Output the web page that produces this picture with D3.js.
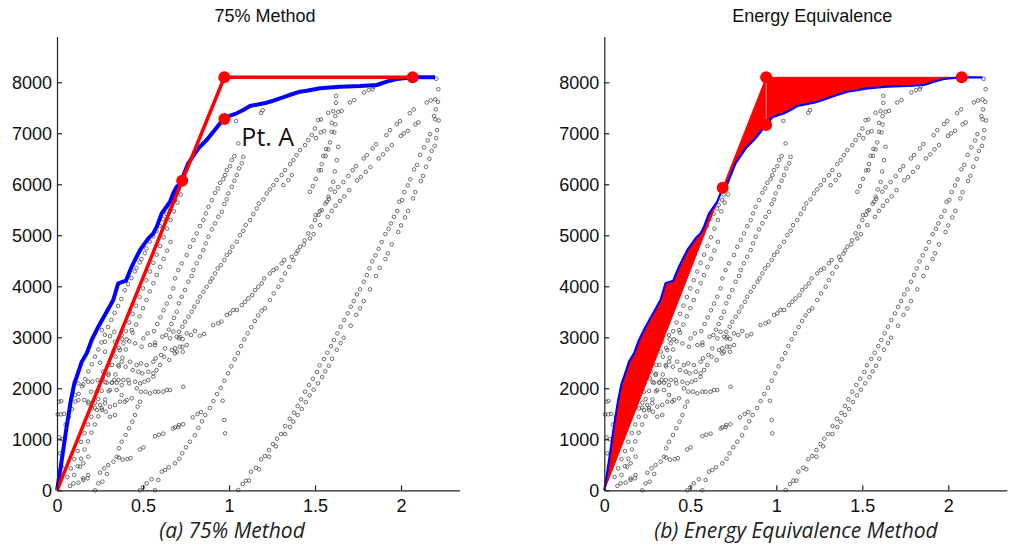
<!DOCTYPE html>
<html>
<head>
<meta charset="utf-8">
<script src="https://cdn.jsdelivr.net/npm/d3@7"></script>
<style>
  body { margin: 0; background: #fff; }
  svg text { font-family: "Liberation Sans", Arial, sans-serif; }
</style>
</head>
<body>
<svg id="chart" width="1010" height="545"></svg>
<script>
const xTicks = [0, 0.5, 1, 1.5, 2];
const yTicks = [0, 1000, 2000, 3000, 4000, 5000, 6000, 7000, 8000];

// envelope (blue)
const envelope = [[0,0],[0.002,39],[0.022,463],[0.056,1247],[0.081,1771],[0.101,2098],[0.115,2227],[0.144,2522],
  [0.173,2686],[0.202,2947],[0.240,3208],[0.289,3502],[0.327,3731],[0.356,4059],[0.401,4110],[0.434,4384],
  [0.483,4712],[0.531,4941],[0.560,5039],[0.580,5169],[0.609,5431],[0.657,5659],[0.676,5824],[0.696,5953],
  [0.715,6006],[0.763,6412],[0.822,6706],[0.870,6869],[0.909,7031],[0.948,7196],[0.977,7314],[1.045,7392],
  [1.083,7457],[1.122,7535],[1.219,7600],[1.258,7639],[1.335,7731],[1.413,7816],[1.452,7835],[1.529,7882],
  [1.645,7914],[1.762,7927],[1.859,7947],[1.917,8012],[1.975,8065],[2.072,8098],[2.198,8098]];

// (a) 75% method
const line75 = [[0,0],[0.728,6070],[0.973,8098],[2.068,8098]];
const dots75 = [[0.728,6070],[0.973,8098],[0.973,7280],[2.068,8098]];
const ptA = [0.973,7280];

// (b) energy equivalence
const lineEE = [[0,0],[0.688,5933],[0.941,8098],[2.078,8098]];
const dotsEE = [[0.688,5933],[0.941,8098],[0.941,7163],[2.078,8098]];

// scatter chains
const chainR1 = [[1.054,6],[1.080,123],[1.099,188],[1.116,188],[1.128,365],[1.157,443],[1.186,608],[1.209,672],
  [1.233,790],[1.256,908],[1.279,1011],[1.302,1103],[1.327,1260],[1.353,1403],[1.378,1521],[1.399,1652],
  [1.419,1784],[1.442,1933],[1.465,2064],[1.488,2187],[1.512,2319],[1.527,2450],[1.552,2573],[1.572,2697],
  [1.593,2828],[1.610,2946],[1.630,3077],[1.649,3207],[1.669,3338],[1.690,3469],[1.708,3599],[1.725,3710],
  [1.744,3842],[1.762,3940],[1.783,4089],[1.801,4220],[1.816,4351],[1.833,4488],[1.851,4606],[1.870,4735],
  [1.888,4867],[1.909,5023],[1.928,5127],[1.942,5233],[1.959,5363],[1.978,5480],[1.990,5657],[2.006,5690],
  [2.019,5847],[2.039,5978],[2.054,6096],[2.076,6292],[2.093,6382],[2.112,6578],[2.134,6723],[2.155,6860],
  [2.169,6983],[2.192,7336],[2.199,7272],[2.202,7468],[2.215,7617],[2.217,7865],[2.205,8067],[2.149,7605],
  [2.173,7644],[2.199,7664]];
const chainR2 = [[1.174,412],[1.233,659],[1.272,862],[1.326,1103],[1.355,1241],[1.374,1345],[1.399,1476],
  [1.423,1593],[1.446,1731],[1.469,1862],[1.492,1972],[1.517,2097],[1.542,2221],[1.560,2332],[1.580,2442],
  [1.599,2579],[1.626,2756],[1.649,2887],[1.667,2991],[1.708,3226],[1.740,3442],[1.762,3567],[1.783,3710],
  [1.820,3940],[1.855,4200],[1.876,4363],[1.909,4533],[1.923,4645],[1.946,4822],[1.984,5063],[2.000,5194],
  [2.023,5351],[2.041,5480],[2.070,5723],[2.083,5847],[2.115,6062],[2.128,6166],[2.145,6343],[2.165,6499],
  [2.178,6656],[2.196,6754],[2.205,6905],[2.209,7062],[2.219,7252]];
const chainMa = [[1.471,4939],[1.492,5023],[1.504,5396],[1.529,5474],[1.568,5657],[1.581,5715],[1.616,5853],
  [1.635,5945],[1.665,6043],[1.694,6160],[1.719,6278],[1.738,6356],[1.783,6507],[1.801,6572],[1.835,6703],
  [1.855,6787],[1.915,6964],[1.936,7062],[1.975,7179],[1.994,7238],[2.051,7395],[2.074,7468]];
const chainMb = [[1.529,5200],[1.574,5363],[1.597,5480],[1.620,5578],[1.645,5676],[1.670,5762],[1.699,5886],
  [1.744,6076],[1.766,6141],[1.795,6245],[1.822,6337],[1.870,6507],[1.895,6586],[1.920,6684],[1.946,6768],
  [1.998,6950],[2.016,6997],[2.039,7048],[2.083,7174],[2.101,7213]];
const chainMlow = [[0.908,3240],[0.937,3274],[0.956,3308],[0.987,3437],[1.006,3470],[1.025,3535],[1.045,3535],
  [1.074,3632],[1.093,3697],[1.112,3763],[1.135,3828],[1.151,3926],[1.170,3991],[1.190,4057],[1.205,4155],
  [1.238,4253],[1.258,4318],[1.277,4351],[1.306,4449],[1.321,4514],[1.365,4579],[1.400,4700],[1.435,4820]];
const chainP = [[0.570,0],[0.589,202],[0.609,365],[0.628,398],[0.650,450],[0.686,529],[0.711,619],[0.728,725],
  [0.750,843],[0.773,953],[0.801,1078],[0.822,1227],[0.843,1352],[0.862,1476],[0.888,1613],[0.909,1750],
  [0.930,1887],[0.952,2011],[0.973,2148],[0.994,2293],[1.013,2430],[1.033,2568],[1.052,2691],[1.070,2828],
  [1.089,2960],[1.109,3077],[1.130,3200],[1.150,3320],[1.170,3430],[1.190,3520],[1.209,3567],[1.238,3730],
  [1.260,3860],[1.287,3991],[1.305,4120],[1.326,4253],[1.350,4380],[1.374,4514],[1.390,4640],[1.413,4775],
  [1.440,4900],[1.461,5037],[1.480,5170],[1.500,5298],[1.520,5400],[1.539,5494],[1.560,5620],[1.577,5755],
  [1.590,5900],[1.606,6049],[1.615,6250],[1.626,6474],[1.635,6735]];
const chainA = [[0.564,3120],[0.583,3260],[0.601,3390],[0.620,3530],[0.638,3660],[0.657,3795],[0.676,3960],
  [0.686,4155],[0.705,4318],[0.725,4449],[0.754,4612],[0.773,4775],[0.793,4906],[0.812,5036],
  [0.831,5180],[0.851,5297],[0.865,5429],[0.880,5559],[0.900,5690],[0.919,5833],[0.935,5919],[0.948,6029],
  [0.967,6101],[0.977,6180],[0.987,6278],[1.006,6356],[1.016,6474],[1.031,6552],[1.054,6801]];
const chainB = [[0.650,3150],[0.665,3260],[0.680,3380],[0.696,3501],[0.709,3665],[0.725,3795],[0.744,3927],
  [0.764,4090],[0.783,4201],[0.793,4318],[0.812,4449],[0.831,4579],[0.851,4710],[0.865,4841],[0.880,4971],
  [0.900,5115],[0.919,5233],[0.938,5363],[0.958,5461],[0.973,5612],[0.987,5704],[0.996,5821],[1.016,5951],
  [1.031,6068],[1.045,6180],[1.058,6311],[1.074,6409],[1.083,6539]];
const chainC = [[0.696,3011],[0.709,3109],[0.729,3207],[0.744,3305],[0.764,3403],[0.783,3501],[0.798,3599],
  [0.818,3697],[0.831,3795],[0.851,3893],[0.870,3991],[0.890,4089],[0.903,4155],[0.919,4253],[0.934,4351],
  [0.953,4416],[0.973,4514],[0.987,4612],[1.006,4677],[1.019,4775],[1.045,4873],[1.064,5004],[1.083,5088],
  [1.097,5200],[1.122,5298],[1.141,5415],[1.161,5527],[1.174,5625],[1.199,5704],[1.219,5821],[1.238,5900],
  [1.258,5984],[1.277,6082],[1.306,6180],[1.326,6278],[1.355,6395],[1.374,6474],[1.393,6572],[1.413,6670],
  [1.442,6768],[1.461,6866],[1.481,6964],[1.500,7095],[1.519,7258],[1.535,7272],[1.577,7401],[1.533,7017],
  [1.554,7042],[1.506,6905],[1.316,5984],[1.345,6082],[1.365,6180]];
const chainS = [[1.471,5853],[1.487,5964],[1.504,6107],[1.522,6272],[1.535,6278],[1.539,6395],[1.548,6558],
  [1.562,6558],[1.564,6695],[1.577,6684],[1.587,6821],[1.597,7029],[1.612,7017],[1.618,7174],[1.597,7205],
  [1.606,7434],[1.618,7336],[1.635,7421],[1.655,7440],[1.622,7597],[1.622,7734],[1.703,7605],[1.728,7650],
  [1.785,7801],[1.812,7846],[1.835,7865],[1.839,7911]];
// dense band along the red line
const chainL1 = [[0.031,1000],[0.050,1290],[0.069,1440],[0.088,1590],[0.107,1740],[0.126,1890],[0.145,2040],
  [0.164,2180],[0.183,2330],[0.202,2470],[0.221,2620],[0.240,2760],[0.259,2900],[0.278,3050],[0.297,3200],
  [0.316,3340],[0.335,3480],[0.355,3615],[0.374,3751],[0.394,3922],[0.413,4040],[0.433,4160],[0.452,4290],
  [0.462,4365],[0.481,4470],[0.491,4535],[0.510,4650],[0.520,4740],[0.539,4876],[0.559,4979],[0.578,5081],
  [0.597,5183],[0.617,5320],[0.636,5422],[0.656,5524],[0.665,5592],[0.685,5695],[0.694,5797],[0.704,5879]];
const chainL2 = [[0.060,260],[0.080,430],[0.100,610],[0.120,770],[0.140,950],[0.160,1120],[0.180,1290],
  [0.200,1440],[0.220,1620],[0.240,1790],[0.260,1950],[0.280,2120],[0.300,2290],[0.320,2460],[0.340,2620],
  [0.360,2790],[0.380,2960],[0.400,3120],[0.420,3290],[0.440,3460],[0.460,3620],[0.480,3790],[0.500,3960],
  [0.520,4120],[0.540,4290],[0.560,4460],[0.580,4620],[0.600,4790],[0.620,4960],[0.640,5130],[0.660,5300],
  [0.680,5470],[0.700,5640],[0.720,5800]];
const chainL3 = [[0.100,300],[0.120,470],[0.140,620],[0.160,800],[0.180,960],[0.200,1130],[0.220,1290],
  [0.240,1450],[0.260,1610],[0.280,1780],[0.300,1940],[0.320,2110],[0.340,2270],[0.360,2430],[0.380,2600],
  [0.400,2760],[0.420,2920],[0.440,3090],[0.460,3250],[0.480,3410],[0.500,3570],[0.520,3730],[0.540,3900],
  [0.560,4060],[0.580,4220],[0.600,4380],[0.620,4540],[0.640,4700],[0.660,4870]];
// rows and short chains in the lower left
const chainRows = [[0.260,3142],[0.308,3024],[0.333,3109],[0.376,3044],[0.405,2959],[0.434,3142],[0.502,2979],
  [0.527,3077],[0.570,2894],[0.612,3011],[0.634,3044],[0.676,3109],[0.657,2979],[0.709,2979],[0.729,2815],
  [0.715,3011],[0.279,2913],[0.337,2913],[0.386,2881],[0.454,2881],[0.492,2815],[0.541,2848],[0.570,2848],
  [0.628,2783],[0.667,2750],[0.696,2717],[0.731,2717],[0.250,2502],[0.279,2717],[0.328,2717],[0.366,2750],
  [0.376,2521],[0.424,2521],[0.463,2456],[0.488,2489],[0.521,2456],[0.560,2521],[0.574,2587],[0.605,2652],
  [0.624,2619],[0.653,2554],[0.686,2685],[0.302,2456],[0.357,2456],[0.399,2423],[0.440,2358],[0.473,2325],
  [0.496,2293],[0.531,2325],[0.560,2293],[0.579,2358],[0.599,2456],[0.269,2325],[0.298,2260],[0.333,2162],
  [0.357,2162],[0.386,2162],[0.415,2162],[0.454,2129],[0.483,2097],[0.508,2129],[0.531,2162],[0.560,2227],
  [0.124,2097],[0.153,2077],[0.182,2129],[0.205,2129],[0.236,2162],[0.266,2195],[0.289,2110],[0.318,2110],
  [0.347,2110],[0.376,2064],[0.419,2097],[0.463,1999],[0.488,1933],[0.515,1933],[0.541,1901],[0.570,1933],
  [0.589,1933],[0.618,1933],[0.638,1966],[0.657,1966],[0.198,1933],[0.231,1933],[0.308,1966],[0.347,1966],
  [0.376,1868],[0.405,1770],[0.434,1803],[0.395,1737],[0.366,1737],[0.337,1672],[0.308,1639],[0.279,1705],
  [0.250,1672],[0.221,1718],[0.182,1737],[0.105,1868],[0.124,1770],[0.159,1770],[0.182,1705],[0.202,1607],
  [0.231,1574],[0.260,1574],[0.283,1541],[0.308,1443],[0.337,1476]];
const chainDiag = [[0.250,346],[0.275,431],[0.298,496],[0.328,561],[0.347,659],[0.360,823],[0.376,953],
  [0.399,1084],[0.419,1215],[0.438,1345],[0.454,1476],[0.469,1639],[0.483,1737]];
const chainLow = [[0.076,85],[0.095,137],[0.124,150],[0.153,202],[0.178,235],[0.182,300],[0.153,235],
  [0.134,463],[0.153,529],[0.182,660],[0.221,0],[0.240,136],[0.264,170],[0.290,320],[0.360,640],[0.382,600],
  [0.409,610],[0.428,630],[0.482,800],[0.502,840],[0.570,1060],[0.593,1090],[0.618,1110],[0.676,1210],
  [0.705,1240],[0.483,0],[0.500,60],[0.521,137],[0.550,216]];
const chainMisc = [[0.734,2031],[0.963,1756],[0.973,1378],[0.977,1117],[0.686,1235],[0.709,1280],[0.733,1294],
  [0.789,1431],[0.816,1495],[0.837,1535],[0.686,2783],[0.713,2815],[0.754,2848],[0.731,2965],[0.754,3077],
  [0.779,3044],[0.802,3122],[0.830,3030],[0.855,3063],[1.041,7244],[1.196,7454],[1.186,7401],
  [0.012,1737],[0.025,1750],[0.004,1489],[0.023,1489],[0.040,1500],[0.012,1039],[0.017,725],[0.027,464]];

const scatter = [].concat(chainR1, chainR2, chainMa, chainMb, chainMlow, chainP, chainA, chainB, chainC,
  chainS, chainL1, chainL2, chainL3, chainRows, chainDiag, chainLow, chainMisc);

const svg = d3.select("#chart");
const W = 402.5;
const y = d3.scaleLinear().domain([0, 8900]).range([490.3, 36.4]);

const panels = [
  { x0: 57, title: "75% Method", caption: "(a) 75% Method", capX: 232, mode: "a" },
  { x0: 604.3, title: "Energy Equivalence", caption: "(b) Energy Equivalence Method", capX: 796, mode: "b" }
];

panels.forEach(p => {
  const x = d3.scaleLinear().domain([0, 2.34]).range([p.x0, p.x0 + W]);
  const g = svg.append("g");

  g.append("text")
    .attr("x", x(0) + 208).attr("y", 22)
    .attr("text-anchor", "middle")
    .style("font-size", "18px").style("fill", "#111")
    .text(p.title);

  // scatter
  g.append("g").selectAll("circle")
    .data(scatter)
    .enter().append("circle")
    .attr("cx", d => x(d[0]))
    .attr("cy", d => y(d[1]))
    .attr("r", 1.8)
    .style("fill", "none")
    .style("stroke", "#555")
    .style("stroke-width", 0.85);

  const line = d3.line().x(d => x(d[0])).y(d => y(d[1]));

  if (p.mode === "a") {
    g.append("path").attr("d", line(envelope))
      .style("fill", "none").style("stroke", "#0000ff").style("stroke-width", 4)
      .style("stroke-linejoin", "round");
    g.append("path").attr("d", line(line75))
      .style("fill", "none").style("stroke", "#ff0000").style("stroke-width", 3.5);
    g.selectAll(".rdot").data(dots75).enter().append("circle")
      .attr("cx", d => x(d[0])).attr("cy", d => y(d[1])).attr("r", 6)
      .style("fill", "#ff0000");
    g.append("text")
      .attr("x", x(ptA[0]) + 17).attr("y", y(ptA[1]) + 27)
      .style("font-family", "'Open Sans', sans-serif")
      .style("font-size", "25px").style("fill", "#111")
      .text("Pt. A");
  } else {
    const fillPts = lineEE.concat(envelope.filter(d => d[0] <= 2.078).reverse());
    g.append("path").attr("d", line(fillPts) + "Z")
      .style("fill", "#ff0000").style("stroke", "#ff0000").style("stroke-width", 1);
    g.append("path").attr("d", line([dotsEE[1], dotsEE[2]]))
      .style("stroke", "#ff8a8a").style("stroke-width", 1);
    g.append("path").attr("d", line(envelope))
      .style("fill", "none").style("stroke", "#0000ff").style("stroke-width", 2.2)
      .style("stroke-linejoin", "round");
    g.selectAll(".rdot").data(dotsEE).enter().append("circle")
      .attr("cx", d => x(d[0])).attr("cy", d => y(d[1])).attr("r", 6)
      .style("fill", "#ff0000");
  }

  // axes, ticks pointing inward
  const xAxis = g.append("g")
    .attr("transform", `translate(0,${y(0)})`)
    .call(d3.axisBottom(x).tickValues(xTicks).tickSizeInner(-5).tickSizeOuter(0)
      .tickPadding(9).tickFormat(d3.format("~g")));
  const yAxis = g.append("g")
    .attr("transform", `translate(${x(0)},0)`)
    .call(d3.axisLeft(y).tickValues(yTicks).tickSizeInner(-5).tickSizeOuter(0)
      .tickPadding(5).tickFormat(d3.format("d")));
  [xAxis, yAxis].forEach(a => {
    a.selectAll("path, line").style("stroke", "#222").style("stroke-width", 1.2);
    a.selectAll("text").style("font-size", "18px").style("fill", "#111")
      .style("font-family", "'Liberation Sans', Arial, sans-serif");
  });

  g.append("text")
    .attr("x", p.capX).attr("y", 538)
    .attr("text-anchor", "middle")
    .style("font-family", "'Open Sans', sans-serif")
    .style("font-style", "italic")
    .style("font-size", "21px").style("fill", "#222")
    .text(p.caption);
});
</script>
</body>
</html>
